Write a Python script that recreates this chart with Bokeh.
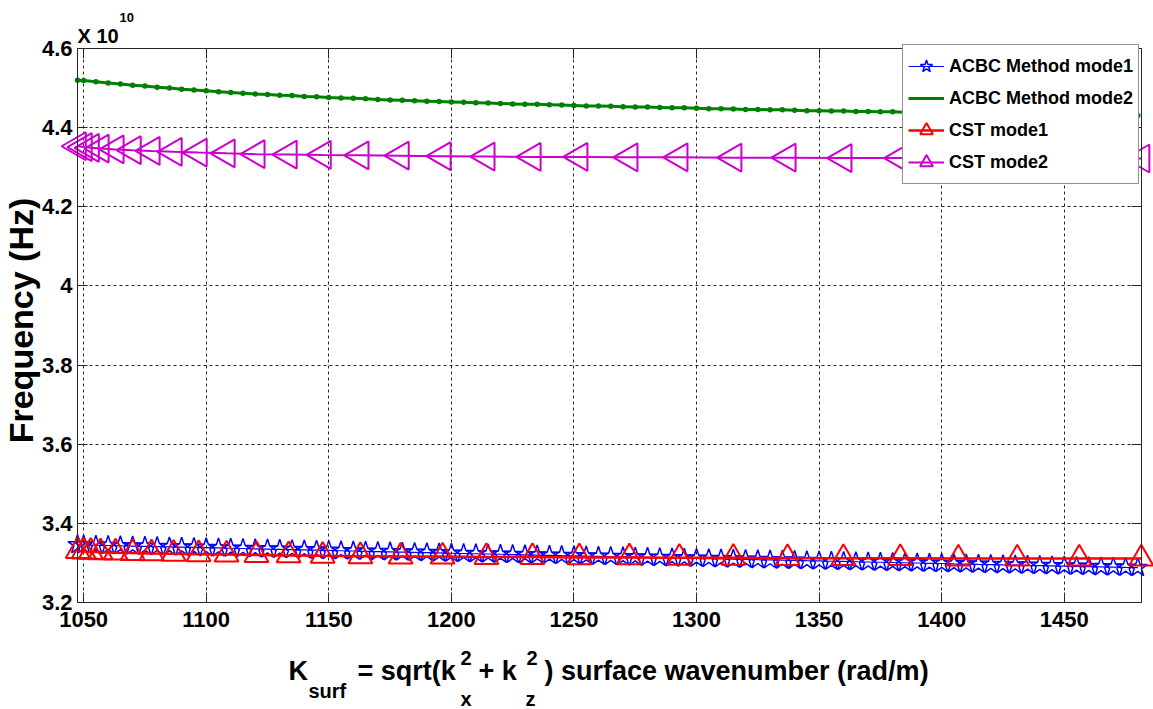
import math
from bokeh.plotting import figure
from bokeh.models import (Range1d, FixedTicker, LinearAxis, Label, Legend,
                          LegendItem, CustomJSTickFormatter)
from bokeh.embed import file_html
from bokeh.resources import INLINE

# ---------------- data (frequency in units of 1e10 Hz) ----------------
x_ticks = [1050, 1100, 1150, 1200, 1250, 1300, 1350, 1400, 1450]
y_ticks = [3.2, 3.4, 3.6, 3.8, 4.0, 4.2, 4.4, 4.6]
x_lim = (1047.5, 1481.5)
y_lim = (3.2, 4.6)

acbc_k = [1047.5, 1050, 1055, 1060, 1065, 1070, 1075, 1080, 1085, 1090, 1095,
          1100, 1105, 1110, 1115, 1120, 1125, 1130, 1135, 1140, 1145,
          1150, 1155, 1160, 1165, 1170, 1175, 1180, 1185, 1190, 1195,
          1200, 1205, 1210, 1215, 1220, 1225, 1230, 1235, 1240, 1245,
          1250, 1255, 1260, 1265, 1270, 1275, 1280, 1285, 1290, 1295,
          1300, 1305, 1310, 1315, 1320, 1325, 1330, 1335, 1340, 1345,
          1350, 1355, 1360, 1365, 1370, 1375, 1380, 1385, 1390, 1395,
          1400, 1405, 1410, 1415, 1420, 1425, 1430, 1435, 1440, 1445,
          1450, 1455, 1460, 1465, 1470, 1475, 1480]

acbc_mode1 = [3.3460, 3.3455, 3.3448, 3.3441, 3.3434, 3.3427, 3.3420, 3.3413, 3.3406, 3.3399, 3.3392,
              3.3385, 3.3378, 3.3371, 3.3364, 3.3357, 3.3350, 3.3343, 3.3336, 3.3329, 3.3322,
              3.3315, 3.3308, 3.3301, 3.3294, 3.3287, 3.3280, 3.3273, 3.3266, 3.3259, 3.3252,
              3.3245, 3.3238, 3.3232, 3.3225, 3.3219, 3.3212, 3.3206, 3.3199, 3.3193, 3.3186,
              3.3180, 3.3173, 3.3167, 3.3160, 3.3154, 3.3147, 3.3141, 3.3134, 3.3128, 3.3121,
              3.3115, 3.3108, 3.3102, 3.3095, 3.3089, 3.3082, 3.3076, 3.3069, 3.3063, 3.3056,
              3.3050, 3.3043, 3.3037, 3.3030, 3.3024, 3.3017, 3.3011, 3.3004, 3.2998, 3.2991,
              3.2985, 3.2978, 3.2972, 3.2965, 3.2959, 3.2952, 3.2946, 3.2939, 3.2933, 3.2926,
              3.2920, 3.2913, 3.2907, 3.2900, 3.2894, 3.2887, 3.2881]

acbc_mode2 = [4.520, 4.519, 4.516, 4.513, 4.510, 4.507, 4.505, 4.502, 4.500, 4.497, 4.495,
              4.493, 4.491, 4.489, 4.487, 4.485, 4.484, 4.482, 4.481, 4.479, 4.478,
              4.476, 4.475, 4.474, 4.473, 4.471, 4.470, 4.469, 4.468, 4.467, 4.466,
              4.465, 4.464, 4.463, 4.462, 4.461, 4.460, 4.459, 4.459, 4.458, 4.457,
              4.456, 4.455, 4.455, 4.454, 4.453, 4.452, 4.452, 4.451, 4.450, 4.450,
              4.449, 4.448, 4.448, 4.447, 4.446, 4.446, 4.445, 4.445, 4.444, 4.443,
              4.443, 4.442, 4.442, 4.441, 4.441, 4.440, 4.440, 4.439, 4.439, 4.438,
              4.438, 4.437, 4.437, 4.436, 4.436, 4.435, 4.435, 4.435, 4.434, 4.434,
              4.433, 4.433, 4.432, 4.432, 4.432, 4.431, 4.431]

cst_k = [1047.6, 1050.0, 1052.9, 1056.9, 1063.0, 1070.0, 1077.7, 1086.7, 1096.9,
         1108.3, 1120.5, 1133.6, 1147.5, 1162.9, 1179.3, 1196.4, 1214.3, 1233.1,
         1252.2, 1272.6, 1293.0, 1315.0, 1337.1, 1359.9, 1383.1, 1406.8, 1430.8,
         1456.1, 1481.4]

cst_mode1 = [3.330, 3.329, 3.328, 3.327, 3.326, 3.325, 3.324, 3.323, 3.322,
             3.321, 3.320, 3.319, 3.318, 3.317, 3.316, 3.316, 3.315, 3.315,
             3.314, 3.314, 3.313, 3.313, 3.312, 3.312, 3.312, 3.311, 3.311,
             3.311, 3.311]

cst_mode2 = [4.353, 4.351, 4.349, 4.347, 4.345, 4.343, 4.341, 4.339, 4.337,
             4.335, 4.333, 4.332, 4.331, 4.330, 4.329, 4.328, 4.327, 4.326,
             4.326, 4.325, 4.325, 4.324, 4.324, 4.323, 4.323, 4.323, 4.322,
             4.322, 4.322]

series_labels = ["ACBC Method mode1", "ACBC Method mode2", "CST mode1", "CST mode2"]

# ---------------- canvas / frame ----------------
W, H = 1153, 709
L, R, T, B = 77, 1141, 48, 602          # pixel box of the axes
sx = (R - L) / (x_lim[1] - x_lim[0])
sy = (B - T) / (y_lim[1] - y_lim[0])
x_range = Range1d(x_lim[0] - L / sx, x_lim[1] + (W - R) / sx)
y_range = Range1d(y_lim[0] - (H - B) / sy, y_lim[1] + T / sy)

SANS = "Liberation Sans"
AX = "#262626"

p = figure(width=W, height=H, output_backend="svg", toolbar_location=None,
           x_range=x_range, y_range=y_range,
           min_border_left=0, min_border_right=0, min_border_top=0,
           min_border_bottom=0, background_fill_color="white",
           border_fill_color="white")
p.outline_line_color = None

p.xaxis.ticker = FixedTicker(ticks=x_ticks)
p.yaxis.ticker = FixedTicker(ticks=y_ticks)
p.yaxis.formatter = CustomJSTickFormatter(code="return String(Math.round(tick*10)/10);")
p.xaxis.fixed_location = y_lim[0]
p.yaxis.fixed_location = x_lim[0]
p.xaxis.bounds = x_lim
p.yaxis.bounds = y_lim

for ax in (p.xaxis[0], p.yaxis[0]):
    ax.major_tick_in = 10
    ax.major_tick_out = 0
    ax.minor_tick_line_color = None
    ax.axis_line_color = AX
    ax.major_tick_line_color = AX
    ax.major_label_text_font = SANS
    ax.major_label_text_font_style = "bold"
    ax.major_label_text_font_size = "22px"
    ax.major_label_text_color = "black"
p.xaxis.major_label_standoff = 9
p.yaxis.major_label_standoff = 5

blank = CustomJSTickFormatter(code="return '';")
top = LinearAxis(ticker=FixedTicker(ticks=x_ticks), fixed_location=y_lim[1], bounds=x_lim,
                 formatter=blank)
right = LinearAxis(ticker=FixedTicker(ticks=y_ticks), fixed_location=x_lim[1], bounds=y_lim,
                   formatter=blank)
for ax in (top, right):
    ax.major_tick_in = 10
    ax.major_tick_out = 0
    ax.minor_tick_line_color = None
    ax.axis_line_color = AX
    ax.major_tick_line_color = AX
    ax.major_label_text_font_size = "1px"
p.add_layout(top, "above")
p.add_layout(right, "right")

p.xgrid.cross_bounds = y_lim
p.ygrid.cross_bounds = x_lim
for g in (p.xgrid[0], p.ygrid[0]):
    g.grid_line_color = "black"
    g.grid_line_alpha = 0.85
    g.grid_line_dash = "3 3"
    g.grid_line_width = 1

# ---------------- series ----------------
b_line = p.line(acbc_k, acbc_mode1, line_color="blue", line_width=1.2)
b_pts = p.scatter(acbc_k, acbc_mode1, marker="star", size=20, line_color="blue",
                  fill_color=None, line_width=1.5)
g_line = p.line(acbc_k, acbc_mode2, line_color="#008000", line_width=3)
g_pts = p.scatter(acbc_k, acbc_mode2, marker="dot", size=22, line_color="#008000",
                  fill_color="#008000")
r_line = p.line(cst_k, cst_mode1, line_color="red", line_width=2.5)
r_pts = p.scatter(cst_k, cst_mode1, marker="triangle", size=24, line_color="red",
                  fill_color=None, line_width=2)
m_line = p.line(cst_k, cst_mode2, line_color="#cc00cc", line_width=2)
m_pts = p.scatter(cst_k, cst_mode2, marker="triangle", angle=math.pi / 2, size=28,
                  line_color="#cc00cc", fill_color=None, line_width=2)

legend = Legend(items=[
    LegendItem(label=series_labels[0], renderers=[b_line, b_pts]),
    LegendItem(label=series_labels[1], renderers=[g_line, g_pts]),
    LegendItem(label=series_labels[2], renderers=[r_line, r_pts]),
    LegendItem(label=series_labels[3], renderers=[m_line, m_pts]),
], location=(902, H - 184), margin=0, padding=5, spacing=0, glyph_width=36,
    glyph_height=32, label_height=32, label_standoff=5,
    label_text_font=SANS, label_text_font_style="bold",
    label_text_font_size="18px", label_text_color="black",
    border_line_color=AX, background_fill_color="white", background_fill_alpha=1)
p.add_layout(legend)

# ---------------- texts (screen units, origin bottom-left of canvas) ----------------
def lab(txt, X, Ybase, size, angle=0, align="left"):
    p.add_layout(Label(text=txt, x=X, y=H - Ybase, x_units="screen", y_units="screen",
                       text_font=SANS, text_font_style="bold",
                       text_font_size=size, text_color="black", angle=angle,
                       text_align=align, text_baseline="alphabetic"))

lab("X 10", 77, 35, "20px")
lab("10", 119, 17, "13px")
lab("Frequency (Hz)", 20, 320, "34px", angle=math.pi / 2, align="center")

lab("K", 288, 670, "27px")
lab("surf", 308, 690, "20px")
lab("= sqrt(k", 357, 670, "27px")
lab("x", 460, 698, "20px")
lab("2", 460, 657, "20px")
lab("+ k", 478, 670, "27px")
lab("z", 525, 698, "20px")
lab("2", 526, 657, "20px")
lab(") surface wavenumber (rad/m)", 544, 670, "27px")

open("out.html", "w").write(file_html(p, INLINE))
